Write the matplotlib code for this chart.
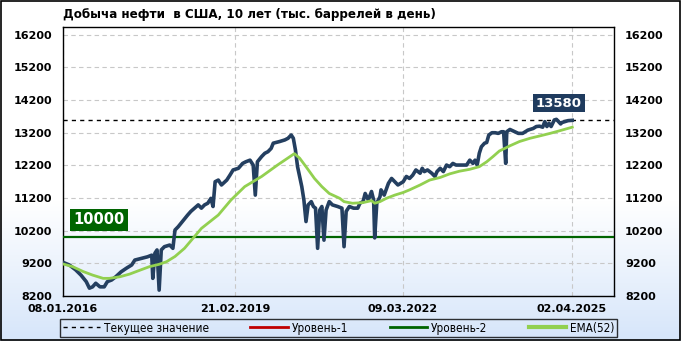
import matplotlib
matplotlib.use("Agg")
import matplotlib.pyplot as plt
import matplotlib.dates as mdates
from matplotlib.patches import Rectangle
import numpy as np
import pandas as pd

# weekly series, week index from 08.01.2016
start = pd.Timestamp("2016-01-08")

oil_weeks = [0, 6, 12, 17, 22, 25, 28, 31, 35, 39, 42, 46, 50, 55, 60, 65, 68, 74, 80, 84,
             85, 87, 89, 91, 93, 96, 101, 104, 106, 109, 113, 118, 121, 128, 131, 134, 137, 140, 142, 144,
             147, 150, 155, 158, 161, 166, 170, 173, 177, 180, 182, 184, 188, 191, 194, 197, 199, 205, 210, 213,
             216, 218, 220, 222, 226, 228, 230, 232, 235, 237, 239, 241, 243, 245, 247, 249, 252, 255, 260, 264,
             266, 268, 271, 275, 279, 281, 284, 286, 289, 292, 294, 295, 297, 300, 301, 304, 308, 311, 314, 317,
             322, 325, 328, 331, 334, 338, 340, 342, 345, 349, 352, 354, 357, 360, 363, 366, 369, 372, 377, 382,
             385, 388, 390, 392, 394, 396, 399, 401, 403, 406, 409, 412, 415, 417, 419, 420, 423, 431, 435, 440,
             445, 448, 451, 454, 456, 458, 460, 462, 465, 467, 469, 471, 472, 475, 478, 482]
oil_values = [9230, 9150, 9000, 8840, 8640, 8440, 8480, 8590, 8480, 8480, 8640, 8690, 8790, 8940, 9050, 9150, 9300, 9350, 9400, 9450,
              8740, 9510, 9610, 8380, 9610, 9710, 9760, 9660, 10220, 10320, 10480, 10680, 10790, 10990, 10890, 10990, 11040, 11190, 10940, 11700,
              11750, 11600, 11750, 11900, 12060, 12110, 12260, 12310, 12360, 12210, 11290, 12310, 12470, 12570, 12620, 12720, 12880, 12930, 12980, 13030,
              13130, 13030, 12670, 12160, 11550, 11140, 10480, 10990, 11090, 10940, 10890, 9660, 10830, 10940, 9910, 10830, 11090, 10990, 10940, 10890,
              9710, 10790, 10940, 10890, 10890, 11040, 11090, 11340, 11140, 11400, 11140, 9980, 11040, 11240, 11450, 11290, 11650, 11800, 11700, 11600,
              11700, 11860, 11800, 11900, 12060, 11960, 12110, 12010, 12060, 11960, 11860, 12010, 12110, 12010, 12210, 12160, 12260, 12210, 12210, 12210,
              12360, 12260, 12360, 12210, 12570, 12770, 12880, 12900, 13130, 13200, 13200, 13180, 13230, 13230, 12260, 13230, 13300, 13180, 13180, 13280,
              13330, 13390, 13400, 13370, 13540, 13390, 13490, 13390, 13590, 13610, 13540, 13470, 13510, 13540, 13570, 13580]

ema_weeks = [0, 9, 19, 28, 38, 44, 54, 63, 72, 82, 91, 98, 106, 115, 131, 147, 159, 172, 188, 203,
             219, 224, 230, 238, 245, 252, 262, 266, 274, 284, 292, 295, 300, 306, 314, 322, 328, 338, 347, 357,
             366, 375, 385, 394, 401, 407, 413, 420, 423, 432, 442, 451, 461, 470, 482]
ema_values = [9180, 9100, 8950, 8840, 8740, 8740, 8790, 8870, 8980, 9100, 9170, 9250, 9410, 9660, 10270, 10680, 11140, 11550, 11860, 12210,
              12560, 12420, 12160, 11800, 11550, 11340, 11190, 11090, 11040, 11060, 11120, 11040, 11090, 11190, 11290, 11370, 11450, 11600, 11750, 11830,
              11940, 12020, 12080, 12160, 12310, 12470, 12640, 12750, 12800, 12930, 13030, 13100, 13180, 13260, 13370]

current_value = 13580
level_2 = 10000
tick_dates = ["2016-01-08", "2019-02-21", "2022-03-09", "2025-04-02"]
y_ticks = [8200, 9200, 10200, 11200, 12200, 13200, 14200, 15200, 16200]

oil_dates = start + pd.to_timedelta(np.array(oil_weeks) * 7, unit="D")
ema_dates = start + pd.to_timedelta(np.array(ema_weeks) * 7, unit="D")

navy = "#243f60"
ema_green = "#92d050"
dark_green = "#006400"

fig = plt.figure(figsize=(6.81, 3.41), dpi=100)

# gradient background (white -> light blue at bottom)
bg = fig.add_axes([0, 0, 1, 1], zorder=0)
grad = np.ones((341, 1, 3))
t = np.clip((np.arange(341) - 200) / 140.0, 0, 1)
low = np.array([0.84, 0.90, 0.98])
for i in range(341):
    grad[i, 0, :] = (1 - t[i]) * np.ones(3) + t[i] * low
bg.imshow(grad, aspect="auto", extent=[0, 1, 0, 1], origin="upper")
bg.axis("off")

ax = fig.add_axes([0.0925, 0.132, 0.809, 0.789], zorder=1)
ax.set_facecolor("none")

ax.plot(oil_dates, oil_values, color=navy, lw=2.6, zorder=4, solid_joinstyle="round")
ax.plot(ema_dates, ema_values, color=ema_green, lw=2.0, zorder=5)
ax.axhline(level_2, color=dark_green, lw=1.6, zorder=3)
ax.axhline(current_value, color="black", lw=1.0, ls=(0, (3, 3)), zorder=3)

ax.set_ylim(8200, 16440)
ax.set_xlim(start, pd.Timestamp("2026-01-05"))
ax.set_yticks(y_ticks)
ax.set_xticks(pd.to_datetime(tick_dates))
ax.xaxis.set_major_formatter(mdates.DateFormatter("%d.%m.%Y"))
ax.tick_params(axis="both", length=0, labelsize=8)
ax.tick_params(axis="y", labelleft=True, labelright=True, pad=8)
ax.tick_params(axis="x", pad=6)
for lab in ax.get_xticklabels() + ax.get_yticklabels():
    lab.set_fontweight("bold")
ax.grid(True, color="#c8c8c8", ls=(0, (4, 3)), lw=0.8)
for s in ax.spines.values():
    s.set_color("black")
    s.set_linewidth(1)

# value labels
ax.text(0.065, 0.283, "10000", transform=ax.transAxes, color="white", fontsize=10.5,
        fontweight="bold", ha="center", va="center", zorder=6,
        bbox=dict(boxstyle="square,pad=0.22", fc=dark_green, ec="none"))
ax.text(0.90, 0.717, str(current_value), transform=ax.transAxes, color="white", fontsize=9.5,
        fontweight="bold", ha="center", va="center", zorder=6,
        bbox=dict(boxstyle="square,pad=0.22", fc="#1f3b5e", ec="none"))

fig.text(0.0925, 0.958, "Добыча нефти  в США, 10 лет (тыс. баррелей в день)",
         fontsize=9.5, fontweight="bold", ha="left", va="center",
         family="DejaVu Sans", fontstretch="condensed")

# legend
h1, = ax.plot([], [], color="black", lw=1, ls=(0, (3, 3)))
h2, = ax.plot([], [], color="#c00000", lw=2)
h3, = ax.plot([], [], color=dark_green, lw=2)
h4, = ax.plot([], [], color=ema_green, lw=3)
leg = fig.legend([h1, h2, h3, h4], ["Текущее значение", "Уровень-1", "Уровень-2", "EMA(52)"],
                 loc="center", bbox_to_anchor=(0.497, 0.038), ncol=4,
                 frameon=True, fancybox=False, handlelength=3.2, handletextpad=0.3,
                 columnspacing=3.5, borderpad=0.2, borderaxespad=0,
                 prop={"family": "DejaVu Sans", "stretch": "condensed", "size": 8.5})
leg.get_frame().set_edgecolor("black")
leg.get_frame().set_facecolor("none")
leg.get_frame().set_linewidth(1)

# outer frame
fig.patches.append(Rectangle((0.001, 0.002), 0.997, 0.995, transform=fig.transFigure,
                             fill=False, ec="black", lw=1.2))

fig.savefig("out.png", dpi=100)
